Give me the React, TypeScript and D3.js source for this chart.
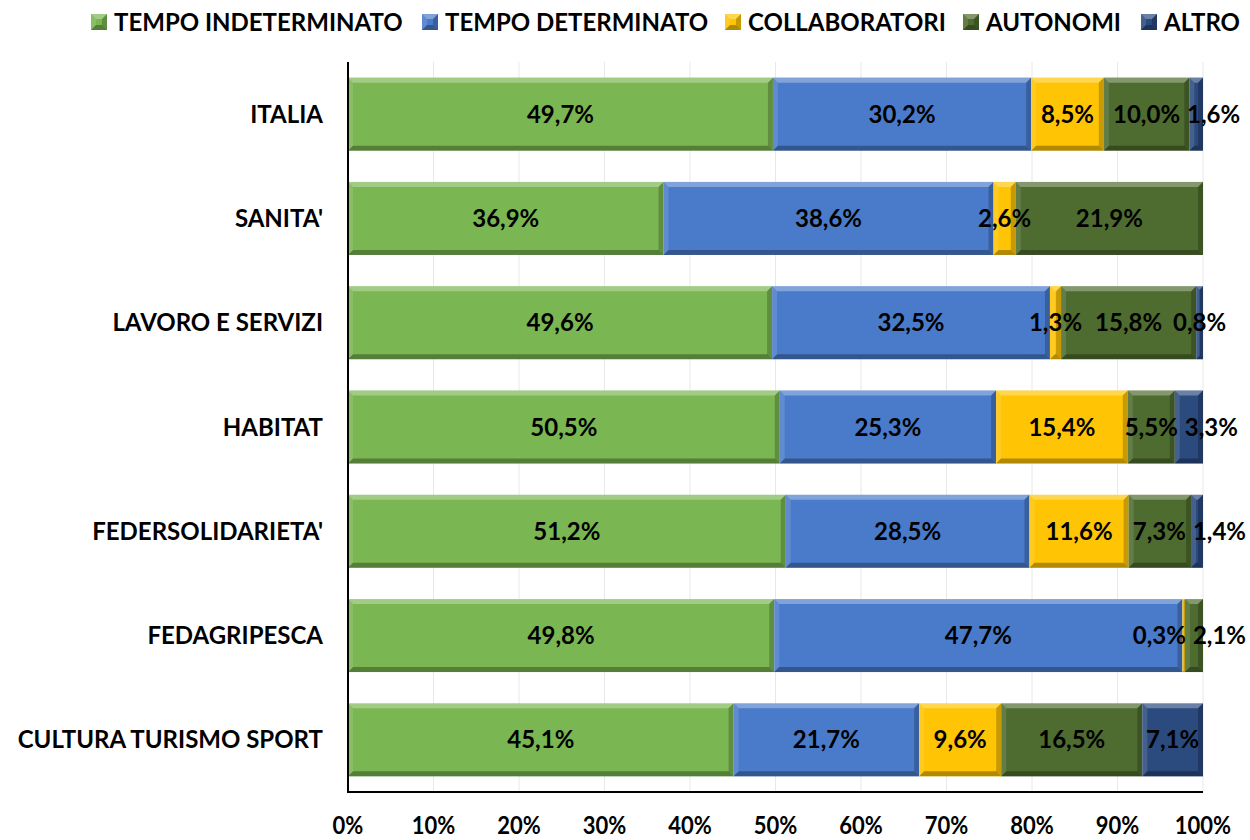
import React from "react";
import * as d3 from "d3";

const width = 1250;
const height = 840;

const categories = [
  "ITALIA",
  "SANITA'",
  "LAVORO E SERVIZI",
  "HABITAT",
  "FEDERSOLIDARIETA'",
  "FEDAGRIPESCA",
  "CULTURA TURISMO SPORT",
];
const seriesNames = ["TEMPO INDETERMINATO", "TEMPO DETERMINATO", "COLLABORATORI", "AUTONOMI", "ALTRO"];
const indeterminato = [49.7, 36.9, 49.6, 50.5, 51.2, 49.8, 45.1];
const determinato = [30.2, 38.6, 32.5, 25.3, 28.5, 47.7, 21.7];
const collaboratori = [8.5, 2.6, 1.3, 15.4, 11.6, 0.3, 9.6];
const autonomi = [10.0, 21.9, 15.8, 5.5, 7.3, 2.1, 16.5];
const altro = [1.6, 0, 0.8, 3.3, 1.4, 0, 7.1];
const tickValues = [0, 0.1, 0.2, 0.3, 0.4, 0.5, 0.6, 0.7, 0.8, 0.9, 1];

const colors = ["#7ab651", "#4a7bcb", "#ffc404", "#4e6c2f", "#2b4a7e"];
const legendX = [91, 422, 725, 963, 1141];

const font = "Lato, 'Open Sans', sans-serif";
const labelSize = 24;
const margin = { top: 62, right: 47, bottom: 48, left: 348 };

let ctx: CanvasRenderingContext2D | null = null;
function textWidth(s: string) {
  if (!ctx) ctx = document.createElement("canvas").getContext("2d");
  if (!ctx) return s.length * 12;
  ctx.font = `bold ${labelSize}px Lato, 'Open Sans', sans-serif`;
  return ctx.measureText(s).width;
}

function Bevel({ x, y, w, h, color }: { x: number; y: number; w: number; h: number; color: string }) {
  const b = Math.min(5, w / 2, h / 2);
  return (
    <g>
      <rect x={x} y={y} width={w} height={h} fill={color} />
      <polygon points={`${x},${y} ${x + w},${y} ${x + w - b},${y + b} ${x + b},${y + b}`} fill="#fff" opacity={0.3} />
      <polygon points={`${x},${y} ${x + b},${y + b} ${x + b},${y + h - b} ${x},${y + h}`} fill="#fff" opacity={0.12} />
      <polygon points={`${x + w},${y} ${x + w},${y + h} ${x + w - b},${y + h - b} ${x + w - b},${y + b}`} fill="#000" opacity={0.22} />
      <polygon points={`${x},${y + h} ${x + w},${y + h} ${x + w - b},${y + h - b} ${x + b},${y + h - b}`} fill="#000" opacity={0.3} />
    </g>
  );
}

export default function App() {
  const series = [indeterminato, determinato, collaboratori, autonomi, altro];
  const rows = categories.map((c, i) => {
    const r: any = { cat: c };
    seriesNames.forEach((s, k) => (r[s] = series[k][i]));
    return r;
  });
  const stacked = d3.stack().keys(seriesNames).offset(d3.stackOffsetExpand)(rows);

  const x = d3.scaleLinear().domain([0, 1]).range([margin.left, width - margin.right]);
  const y = d3
    .scaleBand()
    .domain(categories)
    .range([margin.top, height - margin.bottom])
    .paddingInner(0.3)
    .paddingOuter(0.15);
  const fmt = (v: number) => v.toFixed(1).replace(".", ",") + "%";
  const bottom = height - margin.bottom;

  // data labels, centred, nudged apart where they collide (like Excel does)
  const labels: { x: number; y: number; t: string }[] = [];
  categories.forEach((c, i) => {
    const row = stacked
      .map((s, k) => ({ v: series[k][i], d: s[i] }))
      .filter((o) => o.v > 0)
      .map((o) => {
        const t = fmt(o.v);
        const w = textWidth(t);
        const cx = (x(o.d[0]) + x(o.d[1])) / 2;
        return { t, w, l: cx - w / 2 };
      });
    const gap = 7;
    for (let j = 1; j < row.length; j++) {
      const prev = row[j - 1];
      if (row[j].l < prev.l + prev.w + gap) row[j].l = prev.l + prev.w + gap;
    }
    let limit = width - 4;
    for (let j = row.length - 1; j >= 0; j--) {
      if (row[j].l + row[j].w > limit) row[j].l = limit - row[j].w;
      limit = row[j].l - gap;
    }
    row.forEach((o) => labels.push({ x: o.l + o.w / 2, y: y(c)! + y.bandwidth() / 2, t: o.t }));
  });

  return (
    <svg width={width} height={height} style={{ position: "absolute", left: 0, top: 0, background: "#fff" }} fontFamily={font}>
      {/* gridlines */}
      {tickValues.map((t) => (
        <line key={t} x1={x(t)} x2={x(t)} y1={margin.top} y2={bottom} stroke="#e8e8e8" strokeWidth={1} />
      ))}
      {/* bars */}
      {stacked.map((s, k) => (
        <g key={s.key}>
          {s.map((d: any, i: number) => {
            const w = x(d[1]) - x(d[0]);
            if (w <= 0) return null;
            return <Bevel key={i} x={x(d[0])} y={y(categories[i])!} w={w} h={y.bandwidth()} color={colors[k]} />;
          })}
        </g>
      ))}
      {labels.map((l, i) => (
        <text key={i} x={l.x} y={l.y} dy="0.36em" textAnchor="middle" fontSize={labelSize} fontWeight="bold" fill="#000">
          {l.t}
        </text>
      ))}
      {/* axes */}
      <line x1={margin.left} x2={margin.left} y1={margin.top} y2={bottom + 1} stroke="#000" strokeWidth={2} />
      <line x1={margin.left - 1} x2={x(1)} y1={bottom} y2={bottom} stroke="#000" strokeWidth={2} />
      {tickValues.map((t) => (
        <text
          key={t}
          transform={`translate(${x(t)},834) scale(1,1.15)`}
          textAnchor="middle"
          fontSize={22}
          fontWeight="bold"
        >
          {d3.format(".0%")(t)}
        </text>
      ))}
      {categories.map((c) => (
        <text key={c} x={323} y={y(c)! + y.bandwidth() / 2} dy="0.36em" textAnchor="end" fontSize={24} fontWeight="bold">
          {c}
        </text>
      ))}
      {/* legend */}
      {seriesNames.map((s, k) => (
        <g key={s} transform={`translate(${legendX[k]},14)`}>
          <Bevel x={0} y={0} w={16} h={16} color={colors[k]} />
          <text x={23} y={8} dy="0.36em" fontSize={24} fontWeight="bold">
            {s}
          </text>
        </g>
      ))}
    </svg>
  );
}
